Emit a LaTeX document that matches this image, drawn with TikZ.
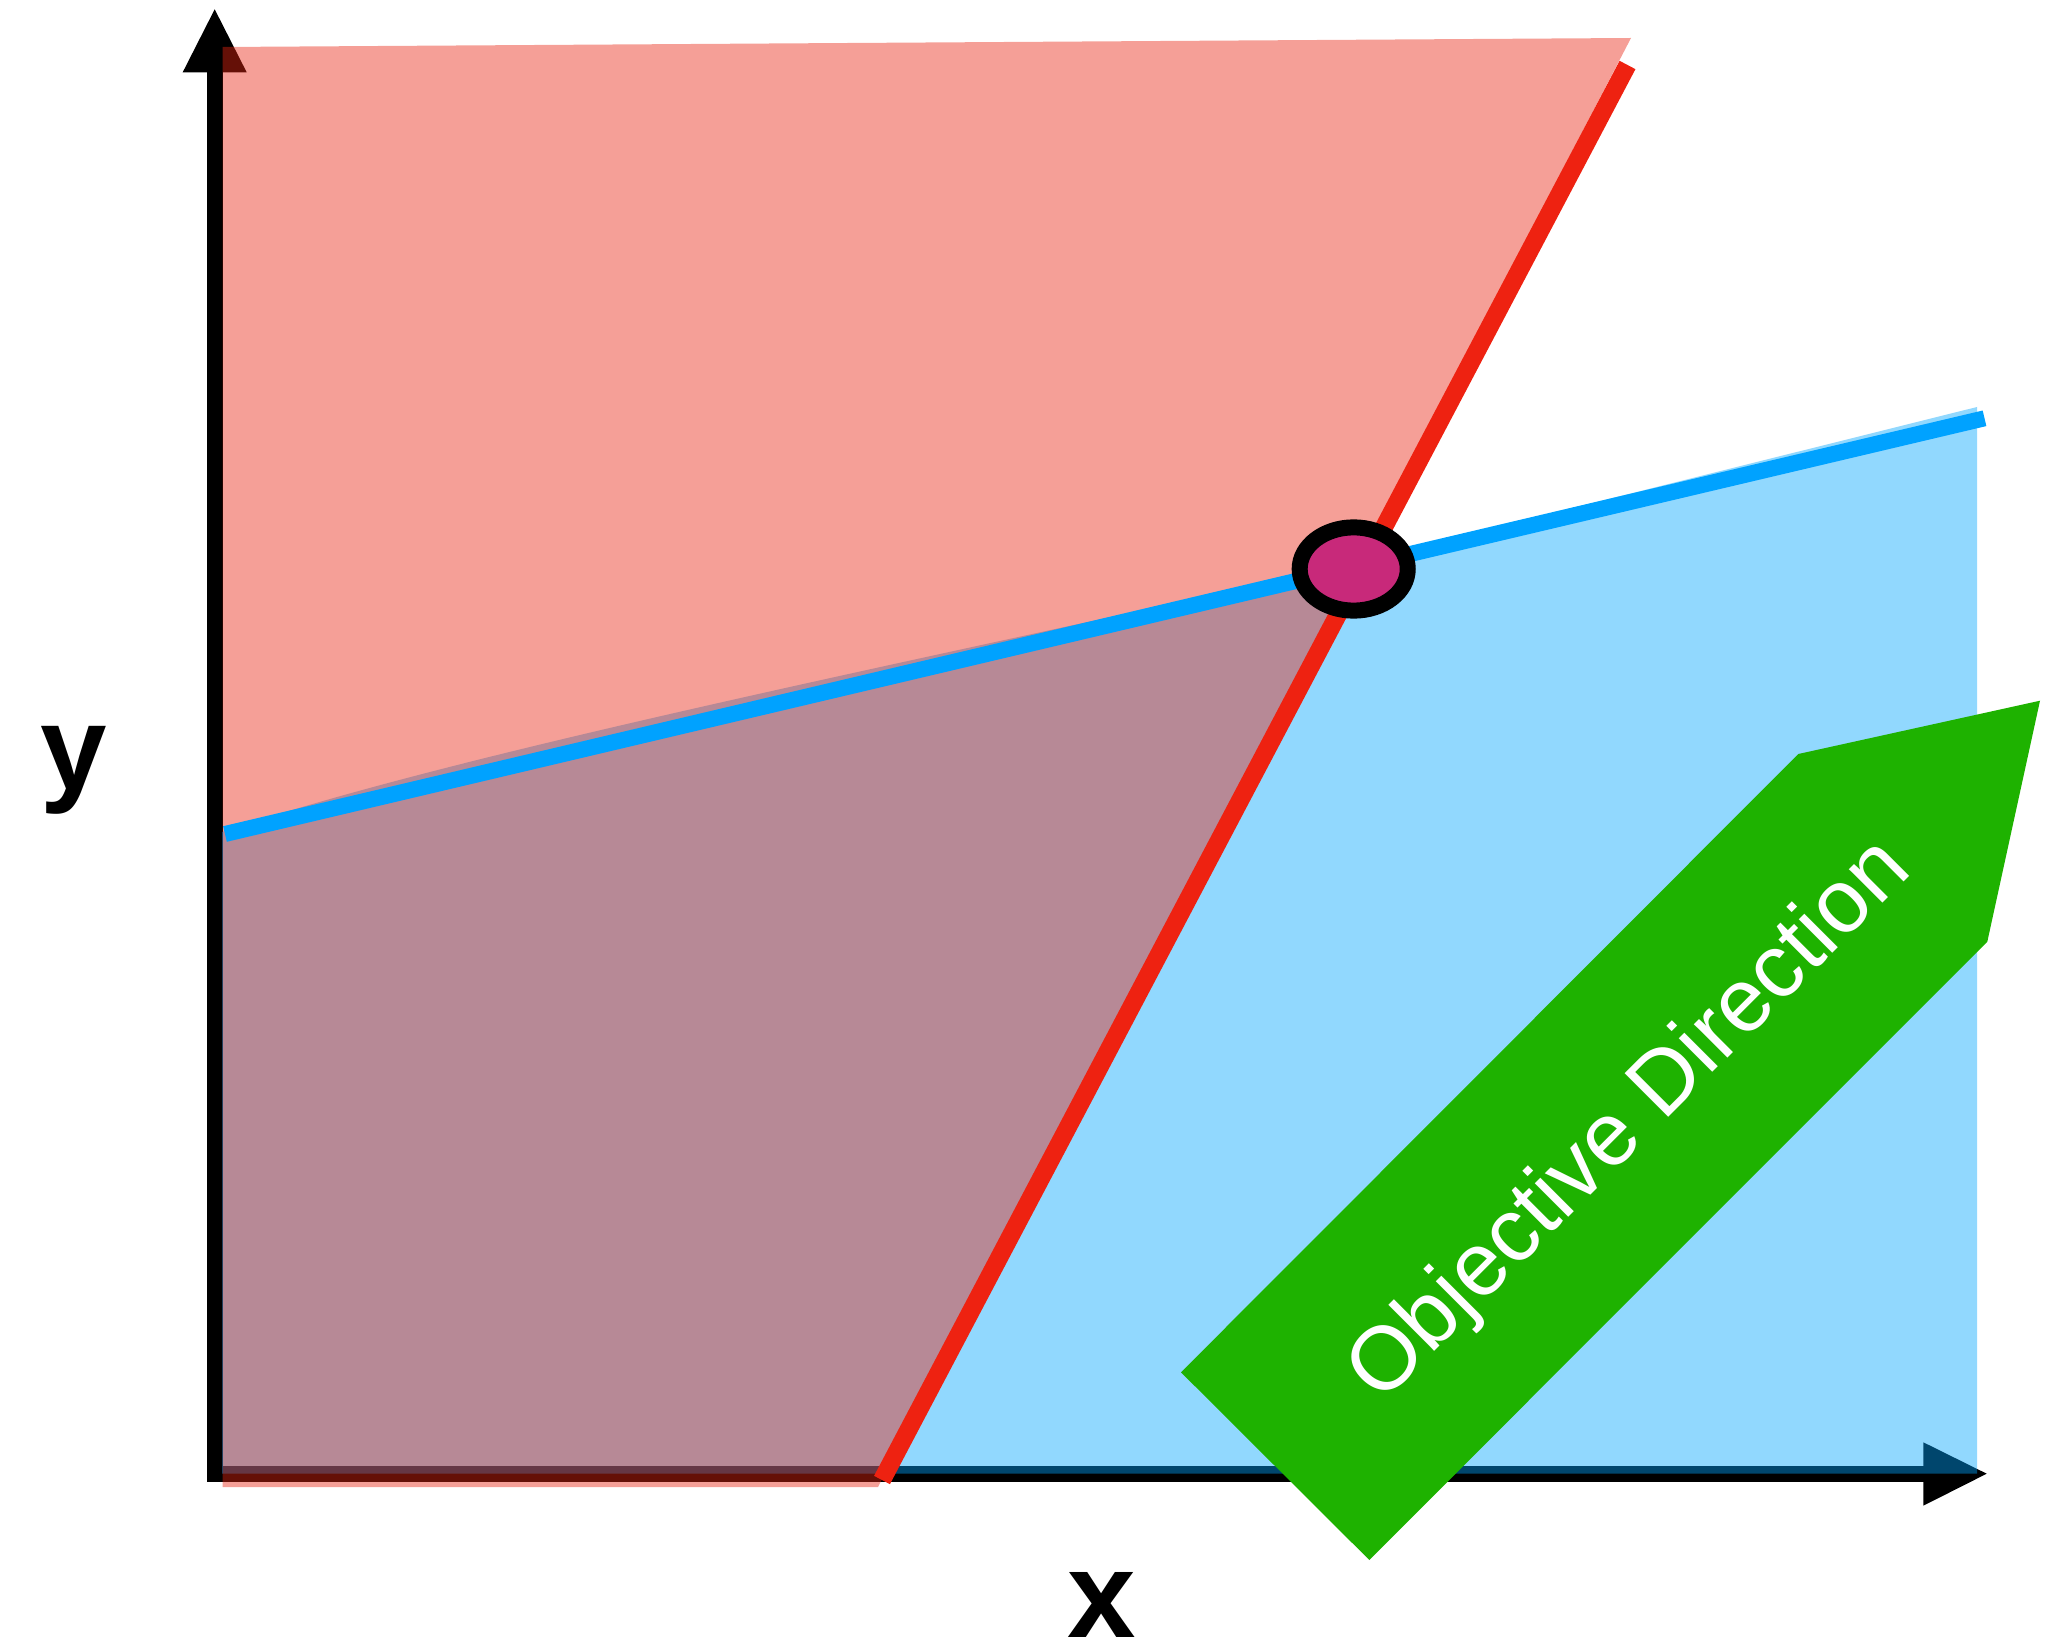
\documentclass[tikz,border=0pt]{standalone}
\usepackage{fontspec}
\setmainfont{Liberation Sans}
\usetikzlibrary{shapes.geometric}
\definecolor{redline}{RGB}{238,34,17}
\definecolor{blueline}{RGB}{0,162,255}
\definecolor{redfill}{RGB}{232,37,18}
\definecolor{bluefill}{RGB}{0,164,253}
\definecolor{arrowgreen}{RGB}{30,178,0}
\definecolor{optpt}{RGB}{200,41,122}
\begin{document}
\begin{tikzpicture}[x=0.01cm,y=-0.01cm,
  axisfill/.style={fill=black},
  redregion/.style={fill=redfill,fill opacity=0.44},
  blueregion/.style={fill=bluefill,fill opacity=0.43},
  constraintA/.style={draw=redline,line width=5.1pt},
  constraintB/.style={draw=blueline,line width=4.55pt},
  optimum/.style={ellipse,draw=black,line width=4.55pt,fill=optpt,minimum width=1.08cm,minimum height=0.832cm,inner sep=0pt},
  objarrow/.style={fill=arrowgreen},
  axislabel/.style={anchor=base,inner sep=0pt,font=\bfseries\fontsize{35}{40}\selectfont}]
\useasboundingbox (0,0) rectangle (2045,1646);

% axes
\coordinate (yb1) at (206.7,1481.7);
\coordinate (yt2) at (222.7,72.3);
\coordinate (xb1) at (206.7,1465.7);
\coordinate (xt2) at (1925,1481.7);
\fill[axisfill] (yb1) rectangle (yt2);
\fill[axisfill] (xb1) rectangle (xt2);
\coordinate (yh1) at (182.7,72.3);
\coordinate (yh2) at (246.7,72.3);
\coordinate (ytip) at (214.7,9.3);
\fill[axisfill] (yh1) -- (ytip) -- (yh2) -- cycle;
\coordinate (xh1) at (1923.3,1442.3);
\coordinate (xh2) at (1923.3,1505.7);
\coordinate (xtip) at (1986.7,1473.7);
\fill[axisfill] (xh1) -- (xtip) -- (xh2) -- cycle;

% feasible regions
\coordinate (b1) at (222,832);
\coordinate (b2) at (1300,576);
\coordinate (b3) at (1977,407);
\coordinate (b4) at (1977,1473.7);
\coordinate (b5) at (222,1473.7);
\fill[blueregion] (b1) .. controls (450,756) and (850,674) .. (b2) -- (b3) -- (b4) -- (b5) -- cycle;
\coordinate (p1) at (222.5,47);
\coordinate (p2) at (1631,38);
\coordinate (p3) at (878,1487);
\coordinate (p4) at (222.5,1487);
\fill[redregion] (p1) -- (p2) -- (p3) -- (p4) -- cycle;

% constraint lines
\coordinate (rA) at (1627.5,65);
\coordinate (rB) at (882,1480);
\draw[constraintA] (rA) -- (rB);
\coordinate (bA) at (225,834);
\coordinate (bB) at (1984.5,418.3);
\draw[constraintB] (bA) -- (bB);

% optimum
\node[optimum] (opt) at (1353.7,569) {};

% objective direction arrow
\coordinate (g1) at (1181,1372.3);
\coordinate (g2) at (1798.3,754);
\coordinate (g3) at (2040,700.7);
\coordinate (g4) at (1987.3,941.7);
\coordinate (g5) at (1369.3,1560);
\fill[objarrow] (g1) -- (g2) -- (g3) -- (g4) -- (g5) -- cycle;
\node[text=white,rotate=45,inner sep=0pt,font=\fontsize{25.5}{30}\selectfont] (objdir) at (1631,1122) {Objective Direction};

% axis labels
\node[axislabel,font=\bfseries\fontsize{34}{40}\selectfont] (ylabel) at (74,789) {y};
\node[axislabel] (xlabel) at (1102,1637) {x};
\end{tikzpicture}
\end{document}
